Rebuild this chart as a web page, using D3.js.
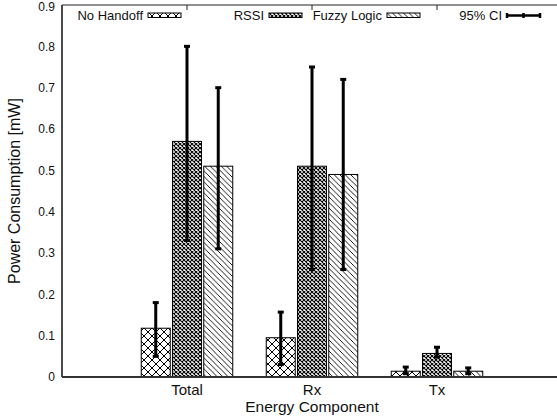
<!DOCTYPE html>
<html>
<head>
<meta charset="utf-8">
<script src="https://cdn.jsdelivr.net/npm/d3@7"></script>
<style>
  html, body { margin: 0; padding: 0; background: #fff; }
  svg { display: block; font-family: "Liberation Sans", Arial, Helvetica, sans-serif; }
</style>
</head>
<body>
<svg id="chart" width="557" height="419"></svg>
<script>
// Energy components on the x axis, one bar per handoff scheme
const categories = ["Total", "Rx", "Tx"];
const seriesNames = ["No Handoff", "RSSI", "Fuzzy Logic"];

// Mean power consumption [mW]
const noHandoff = [0.118, 0.095, 0.014];
const rssi      = [0.57, 0.51, 0.057];
const fuzzy     = [0.51, 0.49, 0.014];

// 95% confidence interval bounds [mW]
const noHandoffLow  = [0.05, 0.03, 0.008];
const noHandoffHigh = [0.18, 0.157, 0.024];
const rssiLow  = [0.33, 0.26, 0.048];
const rssiHigh = [0.80, 0.75, 0.072];
const fuzzyLow  = [0.31, 0.26, 0.008];
const fuzzyHigh = [0.70, 0.72, 0.022];

const yTicks = [0, 0.1, 0.2, 0.3, 0.4, 0.5, 0.6, 0.7, 0.8, 0.9];

const seriesValues = [noHandoff, rssi, fuzzy];
const seriesLow = [noHandoffLow, rssiLow, fuzzyLow];
const seriesHigh = [noHandoffHigh, rssiHigh, fuzzyHigh];
const patternIds = ["pat-cross", "pat-dense", "pat-diag"];

const svg = d3.select("#chart");
const plotLeft = 62, plotTop = 5, plotBottom = 377;

// x: category i sits at i+1 on a 0..4 axis
const x = d3.scaleLinear().domain([0, 4]).range([plotLeft, 562]);
const y = d3.scaleLinear().domain([0, 0.9]).range([plotBottom, plotTop]);
const offset = 0.25, barW = 0.232;

// Fill patterns
const defs = svg.append("defs");
const pc = defs.append("pattern").attr("id", "pat-cross")
  .attr("patternUnits", "userSpaceOnUse").attr("width", 8).attr("height", 8);
pc.append("rect").attr("width", 8).attr("height", 8).attr("fill", "#fff");
pc.append("path").attr("d", "M0,0L8,8M8,0L0,8M-1,7L1,9M7,-1L9,1M-1,1L1,-1M7,9L9,7")
  .attr("stroke", "#000").attr("stroke-width", 1).attr("fill", "none");

const pd = defs.append("pattern").attr("id", "pat-dense")
  .attr("patternUnits", "userSpaceOnUse").attr("width", 4).attr("height", 4);
pd.append("rect").attr("width", 4).attr("height", 4).attr("fill", "#fff");
pd.append("path").attr("d", "M0,0L4,4M4,0L0,4")
  .attr("stroke", "#000").attr("stroke-width", 1.1).attr("fill", "none");

const pg = defs.append("pattern").attr("id", "pat-diag")
  .attr("patternUnits", "userSpaceOnUse").attr("width", 5.5).attr("height", 5.5);
pg.append("rect").attr("width", 5.5).attr("height", 5.5).attr("fill", "#fff");
pg.append("path").attr("d", "M0,0L5.5,5.5M-1,4.5L1,6.5M4.5,-1L6.5,1")
  .attr("stroke", "#000").attr("stroke-width", 0.9).attr("fill", "none");

// Bars
seriesValues.forEach((vals, s) => {
  svg.append("g").selectAll("rect").data(vals).join("rect")
    .attr("x", (d, i) => x(i + 1 + (s - 1) * offset - barW / 2))
    .attr("width", x(barW) - x(0))
    .attr("y", d => y(d))
    .attr("height", d => y(0) - y(d))
    .attr("fill", `url(#${patternIds[s]})`)
    .attr("stroke", "#000").attr("stroke-width", 1);
});

// Error bars
const capW = 6;
seriesValues.forEach((vals, s) => {
  const g = svg.append("g");
  vals.forEach((v, i) => {
    const cx = x(i + 1 + (s - 1) * offset);
    const lo = y(seriesLow[s][i]), hi = y(seriesHigh[s][i]);
    g.append("line").attr("x1", cx).attr("x2", cx).attr("y1", lo).attr("y2", hi)
      .attr("stroke", "#000").attr("stroke-width", 3);
    [lo, hi].forEach(yy => g.append("line")
      .attr("x1", cx - capW / 2).attr("x2", cx + capW / 2).attr("y1", yy).attr("y2", yy)
      .attr("stroke", "#000").attr("stroke-width", 3));
  });
});

// Frame
svg.append("line").attr("x1", plotLeft).attr("x2", 557).attr("y1", plotTop).attr("y2", plotTop)
  .attr("stroke", "#222").attr("stroke-width", 1.2);
svg.append("line").attr("x1", plotLeft).attr("x2", plotLeft).attr("y1", plotTop).attr("y2", plotBottom)
  .attr("stroke", "#111").attr("stroke-width", 1.5);
svg.append("line").attr("x1", plotLeft).attr("x2", 557).attr("y1", plotBottom).attr("y2", plotBottom)
  .attr("stroke", "#333").attr("stroke-width", 2);

// Mirrored category ticks along the top edge
svg.append("g").selectAll("line").data(categories).join("line")
  .attr("x1", (d, i) => x(i + 1)).attr("x2", (d, i) => x(i + 1))
  .attr("y1", plotTop).attr("y2", plotTop + 5)
  .attr("stroke", "#222").attr("stroke-width", 1);

// Y tick labels (the topmost one is nudged to stay inside the canvas)
svg.append("g").selectAll("text").data(yTicks).join("text")
  .attr("x", 55).attr("y", d => Math.max(y(d), 7)).attr("dy", "0.35em")
  .attr("text-anchor", "end").attr("font-size", 12).attr("fill", "#111")
  .text(d => d === 0 ? "0" : d.toFixed(1));

// X tick labels
svg.append("g").selectAll("text").data(categories).join("text")
  .attr("x", (d, i) => x(i + 1)).attr("y", 395)
  .attr("text-anchor", "middle").attr("font-size", 15).attr("fill", "#111")
  .text(d => d);

// Axis titles
svg.append("text").attr("x", x(2)).attr("y", 412)
  .attr("text-anchor", "middle").attr("font-size", 15.5).attr("fill", "#111")
  .text("Energy Component");
svg.append("text").attr("transform", `translate(20,${(plotTop + plotBottom) / 2}) rotate(-90)`)
  .attr("text-anchor", "middle").attr("font-size", 16).attr("fill", "#111")
  .text("Power Consumption [mW]");

// Legend
const legendEnds = [181, 302, 420, 540];
const legendLabels = seriesNames.concat(["95% CI"]);
const lg = svg.append("g");
legendLabels.forEach((name, k) => {
  const x1 = legendEnds[k] - 33, x2 = legendEnds[k];
  lg.append("text").attr("x", x1 - 5).attr("y", 15.5).attr("dy", "0.35em")
    .attr("text-anchor", "end").attr("font-size", 13).attr("fill", "#111").text(name);
  if (k < 3) {
    lg.append("rect").attr("x", x1).attr("y", 13).attr("width", x2 - x1).attr("height", 4.5)
      .attr("fill", `url(#${patternIds[k]})`).attr("stroke", "#000").attr("stroke-width", 1);
  } else {
    lg.append("line").attr("x1", x1).attr("x2", x2).attr("y1", 15.5).attr("y2", 15.5)
      .attr("stroke", "#000").attr("stroke-width", 2.5);
    [x1, (x1 + x2) / 2, x2].forEach(px => lg.append("line")
      .attr("x1", px).attr("x2", px).attr("y1", 13).attr("y2", 18)
      .attr("stroke", "#000").attr("stroke-width", 2.5));
  }
});
</script>
</body>
</html>
